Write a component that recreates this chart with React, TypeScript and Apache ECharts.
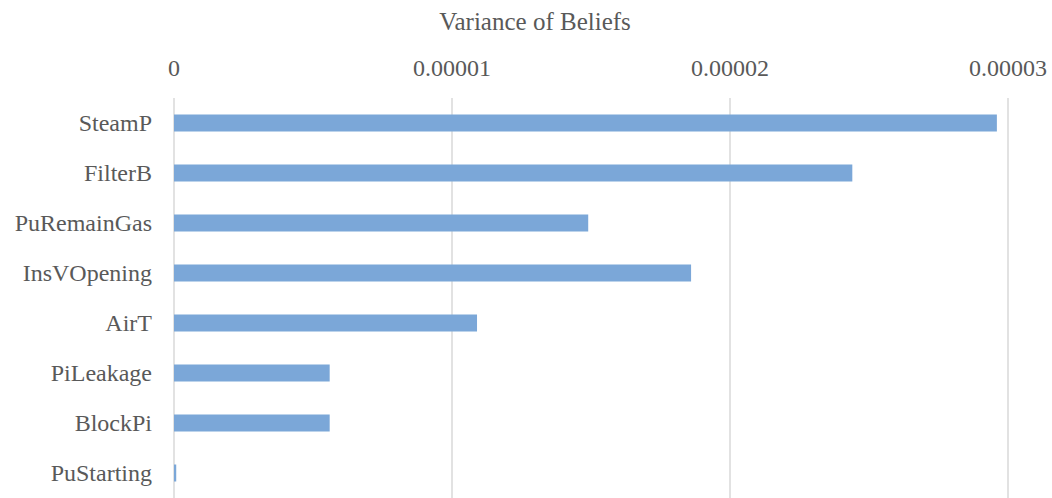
import React, { useEffect, useRef } from "react";
import * as echarts from "echarts";

// Variance of beliefs per variable (top to bottom)
const categories = [
  "SteamP",
  "FilterB",
  "PuRemainGas",
  "InsVOpening",
  "AirT",
  "PiLeakage",
  "BlockPi",
  "PuStarting",
];
const variances = [
  0.0000296, 0.0000244, 0.0000149, 0.0000186, 0.0000109, 0.0000056, 0.0000056,
  0.00000008,
];
const tickLabels = ["0", "0.00001", "0.00002", "0.00003"];
const axisTitle = "Variance of Beliefs";

const FONT = "'Liberation Serif', 'Times New Roman', serif";
const TEXT = "#595959";

export default function App() {
  const ref = useRef<HTMLDivElement>(null);

  useEffect(() => {
    if (!ref.current) return;
    const chart = echarts.init(ref.current, undefined, { renderer: "svg" });
    chart.setOption({
      animation: false,
      backgroundColor: "#ffffff",
      grid: { left: 174, right: 44, top: 98, height: 402, containLabel: false },
      graphic: [
        {
          type: "text",
          x: 535,
          y: 21,
          style: {
            text: axisTitle,
            font: `25px ${FONT}`,
            fill: TEXT,
            textAlign: "center",
            textVerticalAlign: "middle",
          },
        },
      ],
      xAxis: {
        type: "value",
        position: "top",
        min: 0,
        max: 0.00003,
        interval: 0.00001,
        axisLine: { show: false },
        axisTick: { show: false },
        axisLabel: {
          margin: 18,
          fontFamily: FONT,
          fontSize: 24,
          color: TEXT,
          formatter: (_v: number, i: number) => tickLabels[i] ?? "",
        },
        splitLine: { show: true, lineStyle: { color: "#d9d9d9", width: 1.5 } },
      },
      yAxis: {
        type: "category",
        data: categories,
        inverse: true,
        axisLine: { show: false },
        axisTick: { show: false },
        axisLabel: {
          margin: 22,
          fontFamily: FONT,
          fontSize: 24,
          color: TEXT,
        },
      },
      series: [
        {
          type: "bar",
          data: variances,
          barWidth: 17,
          itemStyle: { color: "#7ba7d8" },
        },
      ],
    });
    return () => chart.dispose();
  }, []);

  return (
    <div
      ref={ref}
      style={{ position: "absolute", left: 0, top: 0, width: 1052, height: 498 }}
    />
  );
}
